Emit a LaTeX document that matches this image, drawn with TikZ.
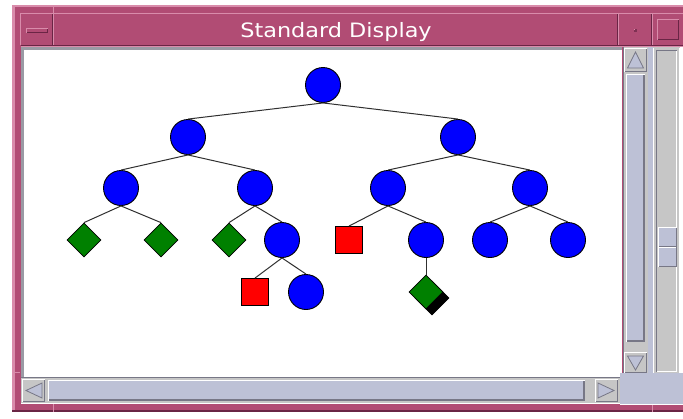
\documentclass[tikz,border=0pt]{standalone}
\usepackage{fontspec}
\newfontfamily\titlefont{DejaVu Sans}
\usetikzlibrary{shapes.geometric}
\definecolor{pinkmain}{HTML}{B14C74}
\definecolor{pinklight}{HTML}{D98CAB}
\definecolor{pinkdark}{HTML}{6A2545}
\definecolor{lav}{HTML}{BDC1D6}
\definecolor{greyc}{HTML}{C6C6C6}
\definecolor{greyedge}{HTML}{9A9AA4}
\definecolor{greydark}{HTML}{777786}
\definecolor{nodeblue}{HTML}{0000FF}
\definecolor{nodegreen}{HTML}{008000}
\definecolor{nodered}{HTML}{FF0000}
\definecolor{edgecol}{HTML}{303030}
\tikzset{
  circ/.style={circle, fill=nodeblue, draw=black, line width=0.9pt, minimum size=35pt, inner sep=0pt},
  dia/.style={diamond, fill=nodegreen, draw=black, line width=0.8pt, minimum width=34pt, minimum height=34pt, inner sep=0pt},
  diashadow/.style={diamond, fill=black, draw=black, line width=0.8pt, minimum width=34pt, minimum height=34pt, inner sep=0pt},
  sq/.style={rectangle, fill=nodered, draw=black, line width=0.9pt, minimum size=27pt, inner sep=0pt},
  link/.style={draw=edgecol, line width=1pt},
  arrowtri/.style={fill=lav, draw=greydark, line width=0.8pt},
}
\begin{document}
\begin{tikzpicture}[x=1pt,y=-1pt]
\useasboundingbox (0,0) rectangle (683,418);
\fill[white] (0,0) rectangle (683,418);
% ---- outer frame
\fill[pinkmain] (12,5) rectangle (683,412);
\fill[pinklight] (12,5) rectangle (683,7);
\fill[pinklight] (12,5) rectangle (14.5,412);
\fill[pinkdark] (12,410) rectangle (683,412);
% frame notches
\draw[pinklight, line width=1pt] (53.5,5) -- (53.5,13);
\draw[pinklight, line width=1pt] (12,372.5) -- (20,372.5);
\draw[pinklight, line width=1pt] (53.5,404) -- (53.5,412);
\draw[pinklight, line width=1pt] (652.5,404) -- (652.5,412);
% ---- title bar
\draw[pinklight, line width=1pt] (20.5,45) -- (20.5,13.5) -- (683,13.5);
\draw[pinkdark, line width=1pt] (20.5,45.5) -- (683,45.5);
\draw[pinklight, line width=1pt] (20.5,46.5) -- (683,46.5);
\foreach \sx in {53,618,652}{
  \draw[pinkdark, line width=1pt] (\sx-0.5,14) -- (\sx-0.5,45);
  \draw[pinklight, line width=1pt] (\sx+0.5,14) -- (\sx+0.5,45);
}
% minimize glyph
\fill[pinkmain] (26,28) rectangle (48,33);
\draw[pinklight, line width=1pt] (26.5,33) -- (26.5,28.5) -- (48,28.5);
\draw[pinkdark, line width=1pt] (26.5,32.5) -- (47.5,32.5) -- (47.5,28.5);
% dot glyph
\fill[pinkdark!70!pinkmain] (633.5,28.5) rectangle (637,32);
\fill[pinklight] (633.5,28.5) rectangle (635,30);
% other window button
\draw[pinklight, line width=1pt] (657.5,40) -- (657.5,19.5) -- (679,19.5);
\draw[pinkdark, line width=1pt] (658,39.5) -- (678.5,39.5) -- (678.5,20);
\node[anchor=base, font=\titlefont\fontsize{19.8}{22}\selectfont, text=white, inner sep=0pt] (title) at (336,37) {\scalebox{1.13}[1]{Standard Display}};
% ---- canvas
\fill[greyedge] (21,47) rectangle (622,377);
\fill[white] (24,50) rectangle (622,377);
% ---- right strip / other window column
\fill[lav] (648,47) rectangle (683,405);
\fill[white] (680,47) rectangle (683,373);
\fill[greyc] (653,47) rectangle (680,373);
\draw[white, line width=1pt] (653.5,373) -- (653.5,47.5);
\draw[white, line width=1pt] (679.5,48) -- (679.5,373);
\draw[greydark, line width=1pt] (656.5,372) -- (656.5,50.5) -- (677,50.5);
\draw[white, line width=1pt] (656.5,371.5) -- (676.5,371.5) -- (676.5,51);
% right column thumb
\fill[lav] (658,227) rectangle (677,267);
\draw[white, line width=1pt] (658.5,267) -- (658.5,227.5) -- (677,227.5);
\draw[greydark, line width=1pt] (659,266.5) -- (676.5,266.5) -- (676.5,228);
\draw[greydark, line width=1pt] (659,246.5) -- (676,246.5);
\draw[white, line width=1pt] (659,247.5) -- (676,247.5);
% ---- vertical scrollbar
\fill[greyc] (623,47) rectangle (648,373);
\draw[greydark, line width=1pt] (623.5,47) -- (623.5,373);
% up arrow box
\draw[white, line width=1pt] (624.5,72) -- (624.5,48.5) -- (647,48.5);
\draw[greydark, line width=1pt] (625,71.5) -- (646.5,71.5) -- (646.5,49);
\draw[arrowtri] (627.5,68) -- (643.5,68) -- (635.5,52) -- cycle;
% thumb
\fill[lav] (626,74) rectangle (645,342);
\draw[white, line width=1pt] (626.5,342) -- (626.5,74.5) -- (645,74.5);
\draw[greydark, line width=1.5pt] (627,341.2) -- (644.2,341.2) -- (644.2,75);
% down arrow box
\draw[white, line width=1pt] (624.5,373) -- (624.5,352.5) -- (647,352.5);
\draw[greydark, line width=1pt] (625,372.5) -- (646.5,372.5) -- (646.5,353);
\draw[arrowtri] (627.5,356) -- (643.5,356) -- (635.5,370) -- cycle;
% ---- horizontal scrollbar
\fill[greyc] (21,377) rectangle (620,404);
\draw[greydark, line width=1pt] (21,377.5) -- (620,377.5);
\draw[white, line width=1pt] (21,403.5) -- (620,403.5);
% left arrow
\draw[white, line width=1pt] (22.5,402) -- (22.5,379.5) -- (45,379.5);
\draw[greydark, line width=1pt] (23,401.5) -- (44.5,401.5) -- (44.5,380);
\draw[arrowtri] (42,383) -- (42,398) -- (26,390.5) -- cycle;
% thumb
\fill[lav] (48,380) rectangle (585,401);
\draw[white, line width=1pt] (48.5,401) -- (48.5,380.5) -- (585,380.5);
\draw[greydark, line width=1.5pt] (49,400.2) -- (584.2,400.2) -- (584.2,381);
% right arrow
\draw[white, line width=1pt] (595.5,402) -- (595.5,379.5) -- (618,379.5);
\draw[greydark, line width=1pt] (596,401.5) -- (617.5,401.5) -- (617.5,380);
\draw[arrowtri] (598,383) -- (598,398) -- (614,390.5) -- cycle;
% ---- lower right corner
\fill[lav] (620,373) rectangle (683,405);
\draw[white, line width=1pt] (620,404.5) -- (683,404.5);
% ---- tree
\node[circ] (root) at (323,85) {};
\node[circ] (a) at (188,137) {};
\node[circ] (b) at (458,137) {};
\node[circ] (c) at (121,188) {};
\node[circ] (d) at (255,188) {};
\node[circ] (e) at (388,188) {};
\node[circ] (f) at (530,188) {};
\node[dia] (g) at (84,240) {};
\node[dia] (h) at (161,240) {};
\node[dia] (i) at (229,240) {};
\node[circ] (j) at (282,240) {};
\node[sq] (k) at (349,240) {};
\node[circ] (l) at (426,240) {};
\node[circ] (m) at (490,240) {};
\node[circ] (n) at (568,240) {};
\node[sq] (o) at (255,292) {};
\node[circ] (p) at (306,292) {};
\node[diashadow] (qs) at (432,298) {};
\node[dia] (q) at (426,292) {};
\foreach \u/\v in {root/a,root/b,a/c,a/d,b/e,b/f,c/g,c/h,d/i,d/j,e/k,e/l,f/m,f/n,j/o,j/p,l/q}{
  \draw[link] (\u.south) -- (\v.north);
}
\end{tikzpicture}
\end{document}
